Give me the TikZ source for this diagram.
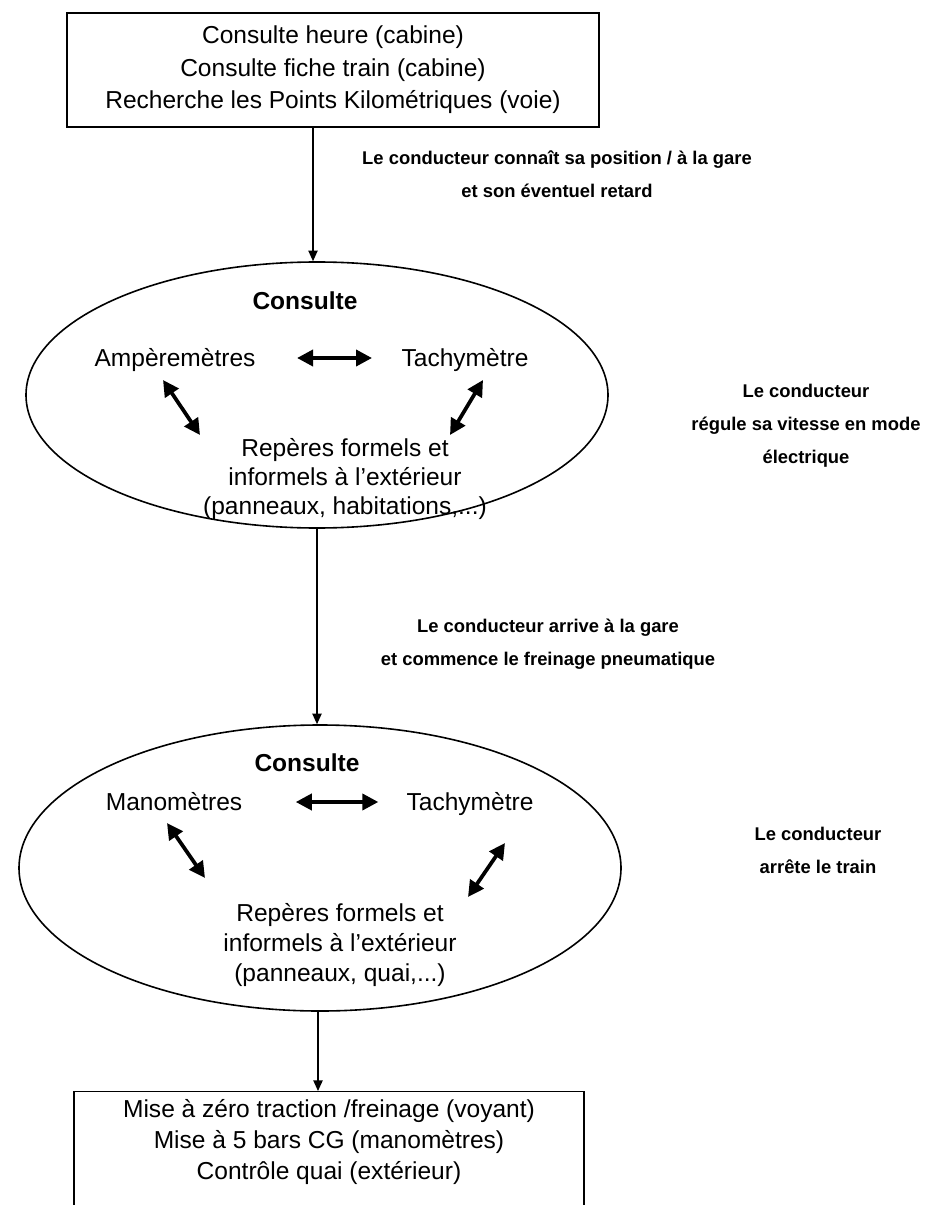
\documentclass[tikz,border=0pt]{standalone}
\usepackage{fontspec}
\setmainfont{Liberation Sans}
\usetikzlibrary{shapes.geometric,arrows.meta,calc}
\begin{document}
\begin{tikzpicture}[x=0.75pt,y=-0.75pt,
  txt/.style={inner sep=0pt, align=center, font=\fontsize{18.4}{24.4}\selectfont},
  sline/.style={inner sep=0pt, text height=13.2pt, text depth=0pt, font=\fontsize{18.4}{22}\selectfont},
  ehead/.style={sline, font=\bfseries\fontsize{18.4}{22}\selectfont},
  ebody/.style={inner sep=0pt, align=center, font=\fontsize{18.4}{21.5}\selectfont},
  lab/.style={inner sep=0pt, align=center, font=\bfseries\fontsize{13.8}{24.75}\selectfont},
  boxed/.style={draw, line width=1pt},
  oval/.style={draw, ellipse, line width=1.2pt, inner sep=0pt},
  conn/.style={line width=1pt, -{Triangle[length=8pt,width=7pt]}},
  dbl/.style={line width=2.8pt, {Triangle[length=12pt,width=12pt]}-{Triangle[length=12pt,width=12pt]}}]
\useasboundingbox[fill=white] (0,0) rectangle (925,1205);

% top box
\node[boxed, txt, minimum width=399pt, minimum height=85.5pt] (top) at (333,70)
  {Consulte heure (cabine)\\Consulte fiche train (cabine)\\Recherche les Points Kilométriques (voie)};

% ellipses
\node[oval, minimum width=436.5pt, minimum height=199.5pt] (e1) at (317,395) {};
\node[oval, minimum width=451.5pt, minimum height=214.5pt] (e2) at (320,868) {};

% bottom box (cut by the page edge)
\node[boxed, minimum width=382.5pt, minimum height=150pt, anchor=north] (botbox) at (329,1091) {};
\node[txt, font=\fontsize{18.4}{23.6}\selectfont] (bot) at (329,1142)
  {Mise à zéro traction /freinage (voyant)\\Mise à 5 bars CG (manomètres)\\Contrôle quai (extérieur)};

% connectors
\coordinate (x1) at (313,0);
\coordinate (x2) at (317,0);
\coordinate (x3) at (318,0);
\draw[conn] (top.south -| x1) -- (e1.north -| x1);
\draw[conn] (e1.south -| x2) -- (e2.north -| x2);
\draw[conn] (e2.south -| x3) -- (botbox.north -| x3);

% ellipse 1 contents
\node[ehead] (c1) at (305,301) {Consulte};
\node[sline] (amp) at (175,358) {Ampèremètres};
\node[sline] (tach1) at (465,358) {Tachymètre};
\node[ebody] (rep1) at (345,479) {Repères formels et\\informels à l’extérieur\\(panneaux, habitations,...)};
\draw[dbl, shorten <=31pt, shorten >=22pt] (amp.east) -- (tach1.west);
\coordinate (d1a) at (163,380);
\coordinate (d1b) at (200,435);
\coordinate (d2a) at (483,380);
\coordinate (d2b) at (450,435);
\draw[dbl] (d1a) -- (d1b);
\draw[dbl] (d2a) -- (d2b);

% ellipse 2 contents
\node[ehead] (c2) at (307,763) {Consulte};
\node[sline] (mano) at (174,802) {Manomètres};
\node[sline] (tach2) at (470,802) {Tachymètre};
\node[ebody, font=\fontsize{18.4}{22.5}\selectfont] (rep2) at (340,945) {Repères formels et\\informels à l’extérieur\\(panneaux, quai,...)};
\draw[dbl, shorten <=40pt, shorten >=21pt] (mano.east) -- (tach2.west);
\coordinate (d3a) at (167,823);
\coordinate (d3b) at (205,878);
\coordinate (d4a) at (505,843);
\coordinate (d4b) at (468,897);
\draw[dbl] (d3a) -- (d3b);
\draw[dbl] (d4a) -- (d4b);

% side labels
\node[lab] (l2) at (806,426) {Le conducteur\\régule sa vitesse en mode\\électrique};
\node[lab] (l1) at (557,174) {Le conducteur connaît sa position / à la gare\\et son éventuel retard};
\node[lab] (l3) at (548,644) {Le conducteur arrive à la gare\\et commence le freinage pneumatique};
\node[lab] (l4) at (818,850) {Le conducteur\\arrête le train};
\end{tikzpicture}
\end{document}
